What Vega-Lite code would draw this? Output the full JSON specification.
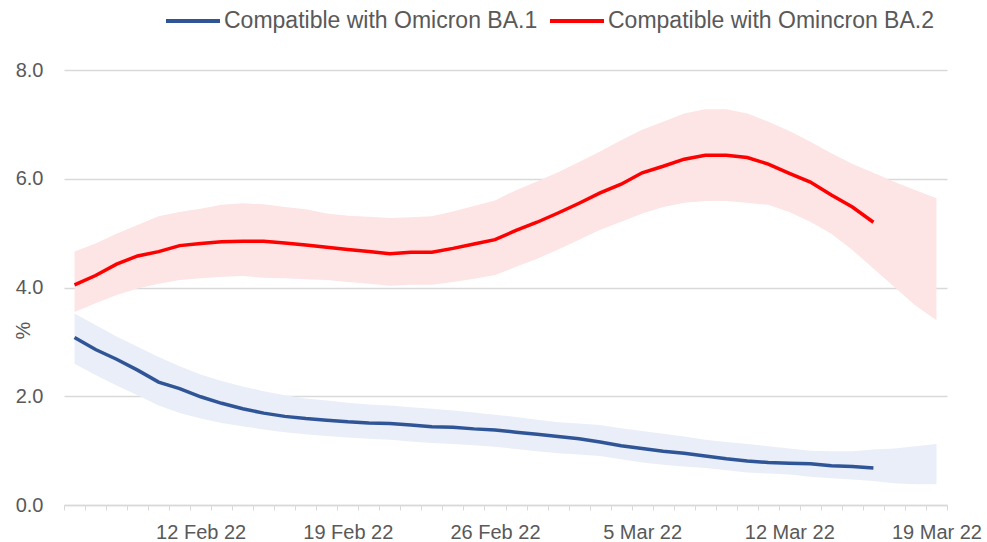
{
  "$schema": "https://vega.github.io/schema/vega-lite/v6.json",
  "width": 883,
  "height": 435,
  "autosize": {"type": "none"},
  "padding": {"left": 64, "top": 70, "right": 40, "bottom": 37},
  "background": "white",
  "config": {
    "font": "Liberation Sans",
    "view": {"stroke": null}
  },
  "data": {
    "values": [
      {"date": "2022-02-06T00:00:00", "variant": "Compatible with Omicron BA.1", "value": 3.08, "lower": 2.60, "upper": 3.52},
      {"date": "2022-02-07T00:00:00", "variant": "Compatible with Omicron BA.1", "value": 2.86, "lower": 2.39, "upper": 3.31},
      {"date": "2022-02-08T00:00:00", "variant": "Compatible with Omicron BA.1", "value": 2.68, "lower": 2.20, "upper": 3.10},
      {"date": "2022-02-09T00:00:00", "variant": "Compatible with Omicron BA.1", "value": 2.48, "lower": 2.02, "upper": 2.91},
      {"date": "2022-02-10T00:00:00", "variant": "Compatible with Omicron BA.1", "value": 2.26, "lower": 1.83, "upper": 2.72},
      {"date": "2022-02-11T00:00:00", "variant": "Compatible with Omicron BA.1", "value": 2.14, "lower": 1.69, "upper": 2.55},
      {"date": "2022-02-12T00:00:00", "variant": "Compatible with Omicron BA.1", "value": 1.99, "lower": 1.59, "upper": 2.40},
      {"date": "2022-02-13T00:00:00", "variant": "Compatible with Omicron BA.1", "value": 1.87, "lower": 1.51, "upper": 2.28},
      {"date": "2022-02-14T00:00:00", "variant": "Compatible with Omicron BA.1", "value": 1.77, "lower": 1.45, "upper": 2.18},
      {"date": "2022-02-15T00:00:00", "variant": "Compatible with Omicron BA.1", "value": 1.69, "lower": 1.39, "upper": 2.09},
      {"date": "2022-02-16T00:00:00", "variant": "Compatible with Omicron BA.1", "value": 1.63, "lower": 1.34, "upper": 2.02},
      {"date": "2022-02-17T00:00:00", "variant": "Compatible with Omicron BA.1", "value": 1.59, "lower": 1.30, "upper": 1.96},
      {"date": "2022-02-18T00:00:00", "variant": "Compatible with Omicron BA.1", "value": 1.56, "lower": 1.27, "upper": 1.92},
      {"date": "2022-02-19T00:00:00", "variant": "Compatible with Omicron BA.1", "value": 1.53, "lower": 1.24, "upper": 1.88},
      {"date": "2022-02-20T00:00:00", "variant": "Compatible with Omicron BA.1", "value": 1.51, "lower": 1.22, "upper": 1.85},
      {"date": "2022-02-21T00:00:00", "variant": "Compatible with Omicron BA.1", "value": 1.50, "lower": 1.20, "upper": 1.83},
      {"date": "2022-02-22T00:00:00", "variant": "Compatible with Omicron BA.1", "value": 1.47, "lower": 1.17, "upper": 1.80},
      {"date": "2022-02-23T00:00:00", "variant": "Compatible with Omicron BA.1", "value": 1.44, "lower": 1.14, "upper": 1.77},
      {"date": "2022-02-24T00:00:00", "variant": "Compatible with Omicron BA.1", "value": 1.43, "lower": 1.12, "upper": 1.74},
      {"date": "2022-02-25T00:00:00", "variant": "Compatible with Omicron BA.1", "value": 1.40, "lower": 1.10, "upper": 1.70},
      {"date": "2022-02-26T00:00:00", "variant": "Compatible with Omicron BA.1", "value": 1.38, "lower": 1.07, "upper": 1.66},
      {"date": "2022-02-27T00:00:00", "variant": "Compatible with Omicron BA.1", "value": 1.34, "lower": 1.03, "upper": 1.62},
      {"date": "2022-02-28T00:00:00", "variant": "Compatible with Omicron BA.1", "value": 1.30, "lower": 0.99, "upper": 1.57},
      {"date": "2022-03-01T00:00:00", "variant": "Compatible with Omicron BA.1", "value": 1.26, "lower": 0.95, "upper": 1.52},
      {"date": "2022-03-02T00:00:00", "variant": "Compatible with Omicron BA.1", "value": 1.22, "lower": 0.93, "upper": 1.50},
      {"date": "2022-03-03T00:00:00", "variant": "Compatible with Omicron BA.1", "value": 1.16, "lower": 0.90, "upper": 1.47},
      {"date": "2022-03-04T00:00:00", "variant": "Compatible with Omicron BA.1", "value": 1.09, "lower": 0.84, "upper": 1.41},
      {"date": "2022-03-05T00:00:00", "variant": "Compatible with Omicron BA.1", "value": 1.04, "lower": 0.78, "upper": 1.36},
      {"date": "2022-03-06T00:00:00", "variant": "Compatible with Omicron BA.1", "value": 0.99, "lower": 0.74, "upper": 1.31},
      {"date": "2022-03-07T00:00:00", "variant": "Compatible with Omicron BA.1", "value": 0.95, "lower": 0.71, "upper": 1.26},
      {"date": "2022-03-08T00:00:00", "variant": "Compatible with Omicron BA.1", "value": 0.90, "lower": 0.68, "upper": 1.20},
      {"date": "2022-03-09T00:00:00", "variant": "Compatible with Omicron BA.1", "value": 0.85, "lower": 0.64, "upper": 1.16},
      {"date": "2022-03-10T00:00:00", "variant": "Compatible with Omicron BA.1", "value": 0.81, "lower": 0.60, "upper": 1.12},
      {"date": "2022-03-11T00:00:00", "variant": "Compatible with Omicron BA.1", "value": 0.78, "lower": 0.58, "upper": 1.08},
      {"date": "2022-03-12T00:00:00", "variant": "Compatible with Omicron BA.1", "value": 0.77, "lower": 0.56, "upper": 1.04},
      {"date": "2022-03-13T00:00:00", "variant": "Compatible with Omicron BA.1", "value": 0.76, "lower": 0.52, "upper": 1.00},
      {"date": "2022-03-14T00:00:00", "variant": "Compatible with Omicron BA.1", "value": 0.72, "lower": 0.49, "upper": 0.99},
      {"date": "2022-03-15T00:00:00", "variant": "Compatible with Omicron BA.1", "value": 0.71, "lower": 0.47, "upper": 0.99},
      {"date": "2022-03-16T00:00:00", "variant": "Compatible with Omicron BA.1", "value": 0.68, "lower": 0.44, "upper": 1.02},
      {"date": "2022-03-17T00:00:00", "variant": "Compatible with Omicron BA.1", "value": null, "lower": 0.40, "upper": 1.04},
      {"date": "2022-03-18T00:00:00", "variant": "Compatible with Omicron BA.1", "value": null, "lower": 0.38, "upper": 1.08},
      {"date": "2022-03-19T00:00:00", "variant": "Compatible with Omicron BA.1", "value": null, "lower": 0.38, "upper": 1.12},
      {"date": "2022-02-06T00:00:00", "variant": "Compatible with Omincron BA.2", "value": 4.05, "lower": 3.55, "upper": 4.66},
      {"date": "2022-02-07T00:00:00", "variant": "Compatible with Omincron BA.2", "value": 4.22, "lower": 3.71, "upper": 4.81},
      {"date": "2022-02-08T00:00:00", "variant": "Compatible with Omincron BA.2", "value": 4.43, "lower": 3.86, "upper": 4.99},
      {"date": "2022-02-09T00:00:00", "variant": "Compatible with Omincron BA.2", "value": 4.58, "lower": 3.98, "upper": 5.15},
      {"date": "2022-02-10T00:00:00", "variant": "Compatible with Omincron BA.2", "value": 4.66, "lower": 4.07, "upper": 5.31},
      {"date": "2022-02-11T00:00:00", "variant": "Compatible with Omincron BA.2", "value": 4.77, "lower": 4.14, "upper": 5.39},
      {"date": "2022-02-12T00:00:00", "variant": "Compatible with Omincron BA.2", "value": 4.81, "lower": 4.17, "upper": 5.45},
      {"date": "2022-02-13T00:00:00", "variant": "Compatible with Omincron BA.2", "value": 4.84, "lower": 4.20, "upper": 5.52},
      {"date": "2022-02-14T00:00:00", "variant": "Compatible with Omincron BA.2", "value": 4.85, "lower": 4.21, "upper": 5.55},
      {"date": "2022-02-15T00:00:00", "variant": "Compatible with Omincron BA.2", "value": 4.85, "lower": 4.18, "upper": 5.53},
      {"date": "2022-02-16T00:00:00", "variant": "Compatible with Omincron BA.2", "value": 4.82, "lower": 4.17, "upper": 5.48},
      {"date": "2022-02-17T00:00:00", "variant": "Compatible with Omincron BA.2", "value": 4.78, "lower": 4.15, "upper": 5.44},
      {"date": "2022-02-18T00:00:00", "variant": "Compatible with Omincron BA.2", "value": 4.74, "lower": 4.14, "upper": 5.36},
      {"date": "2022-02-19T00:00:00", "variant": "Compatible with Omincron BA.2", "value": 4.70, "lower": 4.10, "upper": 5.32},
      {"date": "2022-02-20T00:00:00", "variant": "Compatible with Omincron BA.2", "value": 4.66, "lower": 4.07, "upper": 5.30},
      {"date": "2022-02-21T00:00:00", "variant": "Compatible with Omincron BA.2", "value": 4.62, "lower": 4.03, "upper": 5.28},
      {"date": "2022-02-22T00:00:00", "variant": "Compatible with Omincron BA.2", "value": 4.65, "lower": 4.05, "upper": 5.29},
      {"date": "2022-02-23T00:00:00", "variant": "Compatible with Omincron BA.2", "value": 4.65, "lower": 4.05, "upper": 5.31},
      {"date": "2022-02-24T00:00:00", "variant": "Compatible with Omincron BA.2", "value": 4.72, "lower": 4.10, "upper": 5.40},
      {"date": "2022-02-25T00:00:00", "variant": "Compatible with Omincron BA.2", "value": 4.80, "lower": 4.16, "upper": 5.50},
      {"date": "2022-02-26T00:00:00", "variant": "Compatible with Omincron BA.2", "value": 4.88, "lower": 4.23, "upper": 5.60},
      {"date": "2022-02-27T00:00:00", "variant": "Compatible with Omincron BA.2", "value": 5.05, "lower": 4.38, "upper": 5.79},
      {"date": "2022-02-28T00:00:00", "variant": "Compatible with Omincron BA.2", "value": 5.20, "lower": 4.53, "upper": 5.95},
      {"date": "2022-03-01T00:00:00", "variant": "Compatible with Omincron BA.2", "value": 5.37, "lower": 4.70, "upper": 6.12},
      {"date": "2022-03-02T00:00:00", "variant": "Compatible with Omincron BA.2", "value": 5.55, "lower": 4.88, "upper": 6.31},
      {"date": "2022-03-03T00:00:00", "variant": "Compatible with Omincron BA.2", "value": 5.74, "lower": 5.06, "upper": 6.50},
      {"date": "2022-03-04T00:00:00", "variant": "Compatible with Omincron BA.2", "value": 5.90, "lower": 5.21, "upper": 6.71},
      {"date": "2022-03-05T00:00:00", "variant": "Compatible with Omincron BA.2", "value": 6.11, "lower": 5.36, "upper": 6.90},
      {"date": "2022-03-06T00:00:00", "variant": "Compatible with Omincron BA.2", "value": 6.23, "lower": 5.48, "upper": 7.05},
      {"date": "2022-03-07T00:00:00", "variant": "Compatible with Omincron BA.2", "value": 6.36, "lower": 5.56, "upper": 7.20},
      {"date": "2022-03-08T00:00:00", "variant": "Compatible with Omincron BA.2", "value": 6.43, "lower": 5.59, "upper": 7.28},
      {"date": "2022-03-09T00:00:00", "variant": "Compatible with Omincron BA.2", "value": 6.43, "lower": 5.59, "upper": 7.28},
      {"date": "2022-03-10T00:00:00", "variant": "Compatible with Omincron BA.2", "value": 6.39, "lower": 5.56, "upper": 7.20},
      {"date": "2022-03-11T00:00:00", "variant": "Compatible with Omincron BA.2", "value": 6.27, "lower": 5.52, "upper": 7.05},
      {"date": "2022-03-12T00:00:00", "variant": "Compatible with Omincron BA.2", "value": 6.10, "lower": 5.39, "upper": 6.88},
      {"date": "2022-03-13T00:00:00", "variant": "Compatible with Omincron BA.2", "value": 5.94, "lower": 5.21, "upper": 6.68},
      {"date": "2022-03-14T00:00:00", "variant": "Compatible with Omincron BA.2", "value": 5.70, "lower": 4.99, "upper": 6.47},
      {"date": "2022-03-15T00:00:00", "variant": "Compatible with Omincron BA.2", "value": 5.48, "lower": 4.69, "upper": 6.27},
      {"date": "2022-03-16T00:00:00", "variant": "Compatible with Omincron BA.2", "value": 5.20, "lower": 4.35, "upper": 6.11},
      {"date": "2022-03-17T00:00:00", "variant": "Compatible with Omincron BA.2", "value": null, "lower": 4.01, "upper": 5.94},
      {"date": "2022-03-18T00:00:00", "variant": "Compatible with Omincron BA.2", "value": null, "lower": 3.67, "upper": 5.79},
      {"date": "2022-03-19T00:00:00", "variant": "Compatible with Omincron BA.2", "value": null, "lower": 3.40, "upper": 5.64}
    ]
  },
  "layer": [
    {
      "mark": {"type": "area", "interpolate": "linear", "opacity": 1},
      "encoding": {
        "x": {
          "field": "date", "type": "temporal", "timeUnit": "yearmonthdate", "bandPosition": 0.5, "title": null,
          "scale": {"domain": [{"year": 2022, "month": 2, "date": 6}, {"year": 2022, "month": 3, "date": 20}]},
          "axis": {
            "grid": false,
            "tickCount": {"interval": "day", "step": 1},
            "labelExpr": "day(datum.value) == 6 ? timeFormat(datum.value, '%-d %b %y') : ''",
            "labelOffset": 10.5,
            "labelOverlap": false,
            "labelFlush": false,
            "labelBound": false,
            "labelFontSize": 20,
            "labelColor": "#595959",
            "labelPadding": 12,
            "domainColor": "#D9D9D9",
            "domainWidth": 1.5,
            "tickColor": "#D9D9D9",
            "tickSize": 5,
            "tickWidth": 1
          }
        },
        "y": {
          "field": "lower", "type": "quantitative", "title": "%",
          "scale": {"domain": [0, 8]},
          "axis": {
            "values": [0, 2, 4, 6, 8],
            "format": ".1f",
            "domain": false,
            "ticks": false,
            "gridColor": "#D9D9D9",
            "gridWidth": 1.5,
            "labelFontSize": 20,
            "labelColor": "#595959",
            "labelPadding": 21,
            "titleFontSize": 20,
            "titleFontWeight": "normal",
            "titleColor": "#595959",
            "titleAngle": 270,
            "titleAlign": "center",
            "titleBaseline": "middle",
            "titleX": -41,
            "titleY": 260
          }
        },
        "y2": {"field": "upper"},
        "fill": {
          "field": "variant", "type": "nominal", "legend": null,
          "scale": {"domain": ["Compatible with Omincron BA.2", "Compatible with Omicron BA.1"], "range": ["#FDE4E5", "#E9EEF8"]}
        }
      }
    },
    {
      "mark": {"type": "line", "strokeWidth": 3.5, "interpolate": "linear"},
      "encoding": {
        "x": {"field": "date", "type": "temporal", "timeUnit": "yearmonthdate", "bandPosition": 0.5, "title": null},
        "y": {"field": "value", "type": "quantitative", "title": "%"},
        "stroke": {
          "field": "variant", "type": "nominal",
          "scale": {"domain": ["Compatible with Omicron BA.1", "Compatible with Omincron BA.2"], "range": ["#2F5597", "#FF0000"]},
          "legend": {
            "orient": "none",
            "legendX": 100,
            "legendY": -78,
            "direction": "horizontal",
            "title": null,
            "symbolType": "stroke",
            "symbolSize": 2916,
            "symbolStrokeWidth": 4,
            "labelFontSize": 23,
            "labelColor": "#595959",
            "labelOffset": 2,
            "labelLimit": 600,
            "columnPadding": 4
          }
        }
      }
    }
  ]
}
